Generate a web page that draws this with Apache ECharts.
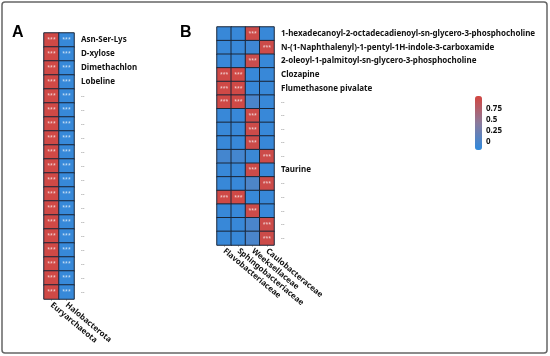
<!DOCTYPE html>
<html><head><meta charset="utf-8">
<script src="https://cdn.jsdelivr.net/npm/echarts@6/dist/echarts.min.js"></script>
<style>html,body{margin:0;padding:0;background:#fff}#c{width:550px;height:356px}</style>
</head><body><div id="c"></div>
<script>
// ---- Panel A data ----
const taxaA = ['Euryarchaeota', 'Halobacterota'];
const metabolitesA = ['Asn-Ser-Lys', 'D-xylose', 'Dimethachlon', 'Lobeline',
  '--', '--', '--', '--', '--', '--', '--', '--', '--', '--', '--', '--', '--', '--', '--'];
const valuesA = [
  [1.0, -0.13], [1.0, -0.13], [1.0, -0.13], [1.0, -0.13], [1.0, -0.13],
  [1.0, -0.13], [1.0, -0.13], [1.0, -0.13], [1.0, -0.13], [1.0, -0.13],
  [1.0, -0.13], [1.0, -0.13], [1.0, -0.13], [1.0, -0.13], [1.0, -0.13],
  [1.0, -0.13], [1.0, -0.13], [1.0, -0.13], [1.0, -0.13]
];
const sigA = [
  ['***', '***'], ['***', '***'], ['***', '***'], ['***', '***'], ['***', '***'],
  ['***', '***'], ['***', '***'], ['***', '***'], ['***', '***'], ['***', '***'],
  ['***', '***'], ['***', '***'], ['***', '***'], ['***', '***'], ['***', '***'],
  ['***', '***'], ['***', '***'], ['***', '***'], ['***', '***']
];

// ---- Panel B data ----
const taxaB = ['Flavobacteriaceae', 'Sphingobacteriaceae', 'Weeksellaceae', 'Caulobacteraceae'];
const metabolitesB = [
  '1-hexadecanoyl-2-octadecadienoyl-sn-glycero-3-phosphocholine',
  'N-(1-Naphthalenyl)-1-pentyl-1H-indole-3-carboxamide',
  '2-oleoyl-1-palmitoyl-sn-glycero-3-phosphocholine',
  'Clozapine', 'Flumethasone pivalate',
  '--', '--', '--', '--', '--', 'Taurine', '--', '--', '--', '--', '--'];
const valuesB = [
  [-0.12, -0.12, 0.98, -0.12],
  [-0.12, -0.12, -0.08, 0.98],
  [-0.12, -0.12, 0.95, -0.12],
  [1.0, 1.0, -0.12, -0.12],
  [1.0, 1.0, -0.12, -0.12],
  [1.0, 1.0, 0.0, -0.12],
  [-0.12, -0.12, 0.98, -0.12],
  [-0.12, -0.12, 0.98, -0.12],
  [-0.12, -0.12, 0.98, -0.12],
  [-0.04, -0.04, -0.1, 0.98],
  [-0.12, -0.12, 0.98, -0.12],
  [-0.12, -0.12, 0.02, 0.98],
  [1.0, 1.0, -0.12, -0.12],
  [-0.12, -0.12, 0.98, -0.12],
  [-0.12, -0.12, 0.0, 0.98],
  [-0.12, -0.12, 0.0, 0.98]
];
const sigB = [
  ['', '', '***', ''], ['', '', '', '***'], ['', '', '***', ''],
  ['***', '***', '', ''], ['***', '***', '', ''], ['***', '***', '', ''],
  ['', '', '***', ''], ['', '', '***', ''], ['', '', '***', ''],
  ['', '', '', '***'], ['', '', '***', ''], ['', '', '', '***'],
  ['***', '***', '', ''], ['', '', '***', ''], ['', '', '', '***'], ['', '', '', '***']
];

// ---- colour scale ----
const scaleMin = -0.18, scaleMax = 1.045;
const legendTicks = [0, 0.25, 0.5, 0.75];

function toCells(values, sig) {
  const out = [];
  values.forEach((row, r) => row.forEach((v, c) => out.push({ value: [c, r, v], sig: sig[r][c] })));
  return out;
}

const FONT = 'Noto Sans';
const FS = 8;
const labelStyleY = () => ({
  fontFamily: FONT, fontWeight: 'bold', fontSize: FS, color: '#111', margin: 7, interval: 0,
  formatter: (v) => v === '--' ? '{d|--}' : v,
  rich: { d: { fontSize: 5.5, color: '#777', fontWeight: 'normal' } }
});
const xLabel = { fontFamily: FONT, fontWeight: 'bold', fontSize: FS, color: '#111', rotate: -40, margin: 5, interval: 0 };

const chart = echarts.init(document.getElementById('c'));
chart.setOption({
  animation: false,
  backgroundColor: '#fff',
  grid: [
    { left: 44, top: 33, width: 30, height: 266 },
    { left: 217, top: 27, width: 57, height: 218 },
    { left: 475, top: 96, width: 7, height: 54 }
  ],
  xAxis: [
    { type: 'category', gridIndex: 0, data: taxaA, axisLine: { show: false },
      axisTick: { show: true, interval: 0, alignWithLabel: true, length: 2, lineStyle: { color: '#bbb' } },
      axisLabel: xLabel, splitLine: { show: false } },
    { type: 'category', gridIndex: 1, data: taxaB, axisLine: { show: false },
      axisTick: { show: true, interval: 0, alignWithLabel: true, length: 2, lineStyle: { color: '#bbb' } },
      axisLabel: xLabel, splitLine: { show: false } },
    { type: 'value', gridIndex: 2, show: false }
  ],
  yAxis: [
    { type: 'category', gridIndex: 0, data: metabolitesA, inverse: true, position: 'right',
      axisLine: { show: false }, axisTick: { show: false }, axisLabel: labelStyleY(), splitLine: { show: false } },
    { type: 'category', gridIndex: 1, data: metabolitesB, inverse: true, position: 'right',
      axisLine: { show: false }, axisTick: { show: false }, axisLabel: labelStyleY(), splitLine: { show: false } },
    { type: 'value', gridIndex: 2, min: scaleMin, max: scaleMax, position: 'right',
      axisLine: { show: false }, axisTick: { show: false }, splitLine: { show: false },
      axisLabel: { customValues: legendTicks, fontFamily: FONT, fontWeight: 'bold', fontSize: FS, color: '#111', margin: 4 } }
  ],
  visualMap: {
    type: 'continuous', min: scaleMin, max: scaleMax, seriesIndex: [0, 1],
    left: 475, top: 96, itemWidth: 7, itemHeight: 54, padding: 0,
    calculable: false, hoverLink: false, text: null, orient: 'vertical',
    inRange: { color: ['#2f8ade', '#8b7a9c', '#d4453f'] }
  },
  series: [
    { type: 'heatmap', xAxisIndex: 0, yAxisIndex: 0, data: toCells(valuesA, sigA),
      itemStyle: { borderColor: '#1a2638', borderWidth: 1 },
      label: { show: true, formatter: (p) => p.data.sig, color: 'rgba(255,255,255,0.8)', fontSize: 5, fontFamily: FONT } },
    { type: 'heatmap', xAxisIndex: 1, yAxisIndex: 1, data: toCells(valuesB, sigB),
      itemStyle: { borderColor: '#1a2638', borderWidth: 1 },
      label: { show: true, formatter: (p) => p.data.sig, color: 'rgba(255,255,255,0.8)', fontSize: 5, fontFamily: FONT } }
  ],
  graphic: [
    { type: 'rect', shape: { x: 2, y: 2, width: 545, height: 351, r: 3 }, style: { fill: 'none', stroke: '#666', lineWidth: 1.5 }, silent: true },
    { type: 'text', left: 12, top: 25, style: { text: 'A', font: 'bold 16px "Liberation Sans"', fill: '#000' } },
    { type: 'text', left: 180, top: 25, style: { text: 'B', font: 'bold 16px "Liberation Sans"', fill: '#000' } }
  ]
});
</script></body></html>
